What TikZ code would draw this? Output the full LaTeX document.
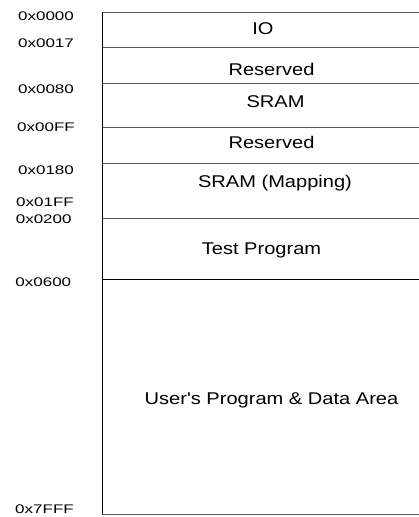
\documentclass[tikz,border=0pt]{standalone}
\usepackage{fontspec}
\setmainfont{Liberation Sans}
\newfontfamily\arialfont{Liberation Sans}
\begin{document}
\begin{tikzpicture}[x=1pt,y=-1pt,
  sep/.style={draw=black!65,line width=0.9pt},
  wall/.style={draw=black,line width=1pt},
  region/.style={anchor=base,inner sep=0pt,font=\arialfont\fontsize{17}{20}\selectfont},
  addr/.style={anchor=base,inner sep=0pt,font=\arialfont\fontsize{12.5}{15}\selectfont}]
\useasboundingbox (0,0) rectangle (419,517);
% memory block
\draw[sep] (102,12) -- (419,12);
\draw[sep] (102,47) -- (419,47);
\draw[sep] (102,83) -- (419,83);
\draw[sep] (102,127) -- (419,127);
\draw[sep] (102,163) -- (419,163);
\draw[sep] (102,218) -- (419,218);
\draw[draw=black,line width=0.9pt] (102,279) -- (419,279);
\draw[sep] (102,514) -- (419,514);
\draw[wall] (102,12) -- (102,514);
% regions
\node[region] (io)   at (263,34)  {\scalebox{1.18}[1]{IO}};
\node[region] (res1) at (271.5,75) {\scalebox{1.18}[1]{Reserved}};
\node[region] (sram) at (275.5,107) {\scalebox{1.18}[1]{SRAM}};
\node[region] (res2) at (271.5,148) {\scalebox{1.18}[1]{Reserved}};
\node[region] (map)  at (275,187) {\scalebox{1.18}[1]{SRAM (Mapping)}};
\node[region] (test) at (261.5,254) {\scalebox{1.18}[1]{Test Program}};
\node[region] (user) at (271.5,404) {\scalebox{1.18}[1]{User's Program \& Data Area}};
% addresses
\node[addr] (a0) at (46,20.7) {\scalebox{1.36}[1]{0x0000}};
\node[addr] (a1) at (46,47) {\scalebox{1.36}[1]{0x0017}};
\node[addr] (a2) at (46,93) {\scalebox{1.36}[1]{0x0080}};
\node[addr] (a3) at (46,131) {\scalebox{1.36}[1]{0x00FF}};
\node[addr] (a4) at (46,174) {\scalebox{1.36}[1]{0x0180}};
\node[addr] (a5) at (45,206) {\scalebox{1.36}[1]{0x01FF}};
\node[addr] (a6) at (43.7,223) {\scalebox{1.36}[1]{0x0200}};
\node[addr] (a7) at (43.3,286) {\scalebox{1.36}[1]{0x0600}};
\node[addr] (a8) at (44.5,513) {\scalebox{1.36}[1]{0x7FFF}};
\end{tikzpicture}
\end{document}
